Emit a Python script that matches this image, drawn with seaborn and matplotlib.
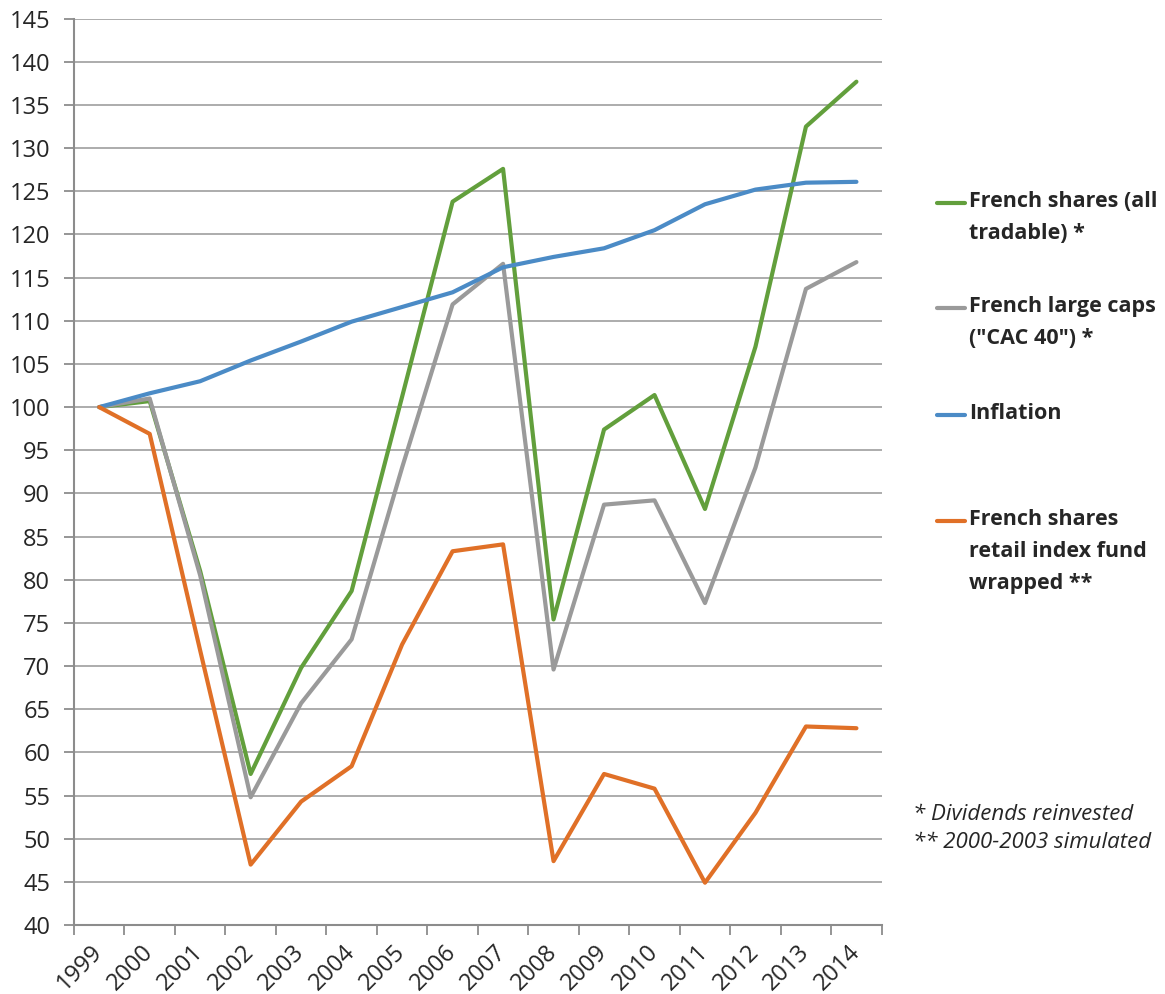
import pandas as pd
import seaborn as sns
import matplotlib.pyplot as plt
from matplotlib.lines import Line2D

# dados
years = list(range(1999, 2015))
all_tradable = [100, 100.7, 81.0, 57.5, 69.8, 78.7, 101.2, 123.8, 127.6, 75.4,
                97.4, 101.4, 88.2, 107.0, 132.5, 137.7]
cac40 = [100, 101.0, 80.5, 54.8, 65.7, 73.1, 93.0, 111.9, 116.6, 69.6,
         88.7, 89.2, 77.3, 93.0, 113.7, 116.8]
inflation = [100, 101.6, 103.0, 105.4, 107.6, 109.9, 111.6, 113.3, 116.2, 117.4,
             118.4, 120.5, 123.5, 125.2, 126.0, 126.1]
retail = [100, 96.9, 71.8, 47.0, 54.3, 58.4, 72.5, 83.3, 84.1, 47.4,
          57.5, 55.8, 44.9, 53.0, 63.0, 62.8]

series_names = ['French shares (all\ntradable) *',
                'French large caps\n("CAC 40") *',
                'Inflation',
                'French shares\nretail index fund\nwrapped **']
colors = ['#629f3c', '#9a9a9a', '#4b8bc6', '#e07027']
notes = ['* Dividends reinvested', '** 2000-2003 simulated']

df = pd.DataFrame({'year': years * 4,
                   'value': all_tradable + cac40 + inflation + retail,
                   'series': sum([[n] * len(years) for n in series_names], [])})

sns.set_style('white')
plt.rcParams['font.family'] = ['Open Sans', 'DejaVu Sans']

fig = plt.figure(figsize=(11.65, 9.94), dpi=100)
ax = fig.add_axes([0.0635, 0.0694, 0.6933, 0.9118])

sns.lineplot(data=df, x='year', y='value', hue='series', hue_order=series_names,
             palette=dict(zip(series_names, colors)), linewidth=3, ax=ax,
             legend=False)

ax.set_xlim(1998.5, 2014.5)
ax.set_ylim(40, 145)
ax.set_yticks(range(40, 150, 5))
ax.yaxis.grid(True, color='#a6a6a6', linewidth=1.3)
ax.set_axisbelow(True)
ax.set_xlabel('')
ax.set_ylabel('')

# ticks nos limites das categorias, rótulos no centro
ax.set_xticks([y - 0.5 for y in years] + [years[-1] + 0.5])
ax.set_xticklabels([])
ax.set_xticks(years, minor=True)
ax.set_xticklabels([str(y) for y in years], minor=True, rotation=45,
                   ha='right', va='center', rotation_mode='anchor', fontsize=17)
ax.tick_params(axis='x', which='major', length=7, width=1.3, color='#8c8c8c',
               direction='out', bottom=True)
ax.tick_params(axis='x', which='minor', length=0, pad=17)
ax.tick_params(axis='y', length=7, width=1.3, color='#8c8c8c', direction='out',
               left=True, labelsize=17, pad=10)

for s in ['top', 'right']:
    ax.spines[s].set_visible(False)
for s in ['left', 'bottom']:
    ax.spines[s].set_color('#8c8c8c')
    ax.spines[s].set_linewidth(1.5)

# legenda manual
W, H = 1165, 994
key_y = [203, 308, 415, 521]
for name, c, ky in zip(series_names, colors, key_y):
    fig.add_artist(Line2D([937 / W, 965 / W], [1 - ky / H, 1 - ky / H],
                          color=c, linewidth=3))
    fig.text(969 / W, 1 - (ky - 12) / H, name, fontsize=15.5, fontweight='bold',
             ha='left', va='top', linespacing=1.7)

fig.text(913 / W, 1 - 815 / H, notes[0], fontsize=16, style='italic',
         ha='left', va='center')
fig.text(913 / W, 1 - 843 / H, notes[1], fontsize=16, style='italic',
         ha='left', va='center')

fig.savefig('out.png', dpi=100)
